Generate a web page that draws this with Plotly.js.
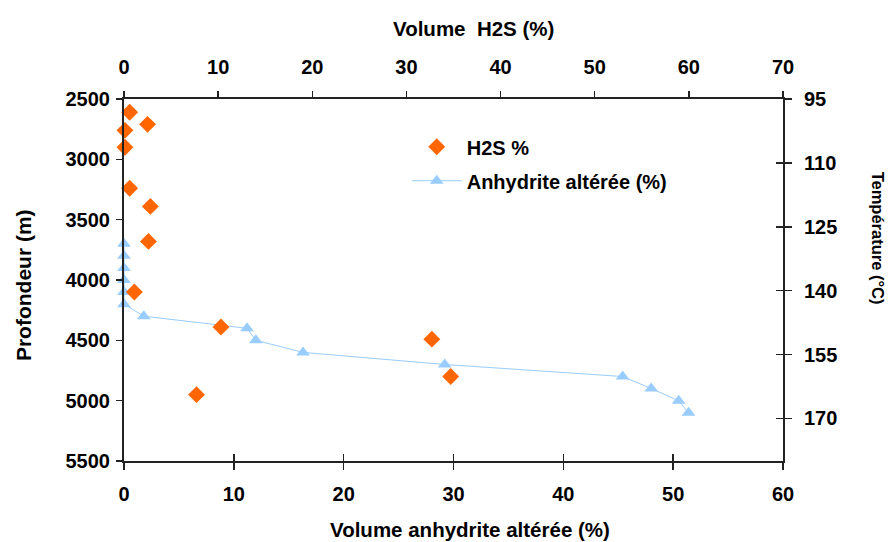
<!DOCTYPE html>
<html>
<head>
<meta charset="utf-8">
<script src="https://cdn.plot.ly/plotly-3.0.1.min.js"></script>
<style>
  html, body { margin: 0; padding: 0; background: #fff; }
  #chart { width: 890px; height: 542px; }
</style>
</head>
<body>
<div id="chart"></div>
<script>
// H2S volume (%) versus depth (m)
const h2sDepth = [2610, 2710, 2760, 2900, 3240, 3390, 3680, 4100, 4390, 4490, 4800, 4950];
const h2sPct   = [0.6, 2.5, 0.1, 0.1, 0.6, 2.8, 2.6, 1.1, 10.3, 32.7, 34.7, 7.7];

// Altered anhydrite volume (%) versus depth (m)
const anhDepth = [3700, 3800, 3900, 4000, 4100, 4200, 4300, 4400, 4500, 4600, 4700, 4800, 4900, 5000, 5100];
const anhPct   = [0, 0, 0, 0, 0, 0, 1.8, 11.2, 12.0, 16.3, 29.2, 45.4, 48.0, 50.5, 51.4];

// Axis labels
const titleTop    = 'Volume \u00a0H2S (%)';
const titleBottom = 'Volume anhydrite altérée (%)';
const titleLeft   = 'Profondeur (m)';
const titleRight  = 'Température (°C)';

const FONT = 'Liberation Sans, Arial, Helvetica, sans-serif';
const FONT_NARROW = 'Liberation Sans Narrow, Arial Narrow, Liberation Sans, sans-serif';
const AX = '#222';
const tickFont = {family: FONT, size: 20, color: '#000', weight: 'bold'};

const traces = [
  {
    type: 'scatter', mode: 'markers', name: 'H2S %',
    x: h2sPct, y: h2sDepth, xaxis: 'x2', yaxis: 'y',
    marker: {symbol: 'diamond', size: 13, color: '#FF6600'},
    legendgroup: 'a', cliponaxis: false
  },
  {
    type: 'scatter', mode: 'lines+markers', name: 'Anhydrite altérée (%)',
    x: anhPct, y: anhDepth, xaxis: 'x', yaxis: 'y',
    line: {color: '#99CCFF', width: 1},
    marker: {symbol: 'triangle-up', size: 12, color: '#99CCFF'},
    legendgroup: 'b', cliponaxis: false
  },
  // empty traces that anchor the extra tick-only axes
  {type: 'scatter', x: [], y: [], xaxis: 'x3', yaxis: 'y', showlegend: false, hoverinfo: 'skip'},
  {type: 'scatter', x: [], y: [], xaxis: 'x', yaxis: 'y3', showlegend: false, hoverinfo: 'skip'},
  {type: 'scatter', x: [], y: [], xaxis: 'x', yaxis: 'y2', showlegend: false, hoverinfo: 'skip'}
];

const common = {
  showgrid: false, zeroline: false, showline: true,
  linecolor: AX, linewidth: 2, tickcolor: AX, tickwidth: 1.5,
  tickfont: tickFont, fixedrange: true
};

const layout = {
  width: 890, height: 542,
  margin: {l: 124, r: 107, t: 99, b: 81},
  paper_bgcolor: '#fff', plot_bgcolor: '#fff',
  font: {family: FONT, color: '#000'},
  showlegend: true,
  legend: {
    x: 0.429, y: 0.922, xanchor: 'left', yanchor: 'top',
    bgcolor: 'rgba(0,0,0,0)', borderwidth: 0,
    font: {family: FONT, size: 20, color: '#000', weight: 'bold'},
    traceorder: 'grouped', tracegroupgap: 5, itemwidth: 50
  },
  xaxis: Object.assign({}, common, {
    range: [0, 60], dtick: 10, tick0: 0, side: 'bottom',
    ticks: 'outside', ticklen: 7, ticklabelstandoff: 7, anchor: 'y'
  }),
  xaxis3: Object.assign({}, common, {
    range: [0, 60], dtick: 10, tick0: 0, side: 'bottom', overlaying: 'x',
    ticks: 'inside', ticklen: 7, showticklabels: false, anchor: 'y'
  }),
  xaxis2: Object.assign({}, common, {
    range: [0, 70], dtick: 10, tick0: 0, side: 'top', overlaying: 'x',
    ticks: 'outside', ticklen: 6, ticklabelstandoff: 9, anchor: 'y'
  }),
  yaxis: Object.assign({}, common, {
    range: [5500, 2500], dtick: 500, tick0: 2500, side: 'left',
    ticks: 'outside', ticklen: 6, ticklabelstandoff: 2, anchor: 'x'
  }),
  yaxis2: Object.assign({}, common, {
    range: [180, 95], dtick: 15, tick0: 95, side: 'right', overlaying: 'y',
    ticks: 'outside', ticklen: 7, ticklabelstandoff: 8, anchor: 'x'
  }),
  yaxis3: Object.assign({}, common, {
    range: [180, 95], dtick: 15, tick0: 95, side: 'right', overlaying: 'y',
    ticks: 'inside', ticklen: 7, showticklabels: false, anchor: 'x'
  }),
  annotations: [
    {text: titleTop, xref: 'paper', yref: 'paper', x: 0.53, y: 1, yshift: 71,
     xanchor: 'center', yanchor: 'middle', showarrow: false,
     font: {family: FONT, size: 20.5, color: '#000', weight: 'bold'}},
    {text: titleBottom, xref: 'paper', yref: 'paper', x: 0.525, y: 0, yshift: -68,
     xanchor: 'center', yanchor: 'middle', showarrow: false,
     font: {family: FONT, size: 20.5, color: '#000', weight: 'bold'}},
    {text: titleLeft, xref: 'paper', yref: 'paper', x: 0, xshift: -101, y: 0.486,
     xanchor: 'center', yanchor: 'middle', showarrow: false, textangle: -90,
     font: {family: FONT, size: 21, color: '#000', weight: 'bold'}},
    {text: titleRight, xref: 'paper', yref: 'paper', x: 1, xshift: 95, y: 0.617,
     xanchor: 'center', yanchor: 'middle', showarrow: false, textangle: 90,
     font: {family: FONT_NARROW, size: 16.5, color: '#000', weight: 'bold'}}
  ]
};

Plotly.newPlot('chart', traces, layout, {displayModeBar: false, staticPlot: true});
</script>
</body>
</html>
